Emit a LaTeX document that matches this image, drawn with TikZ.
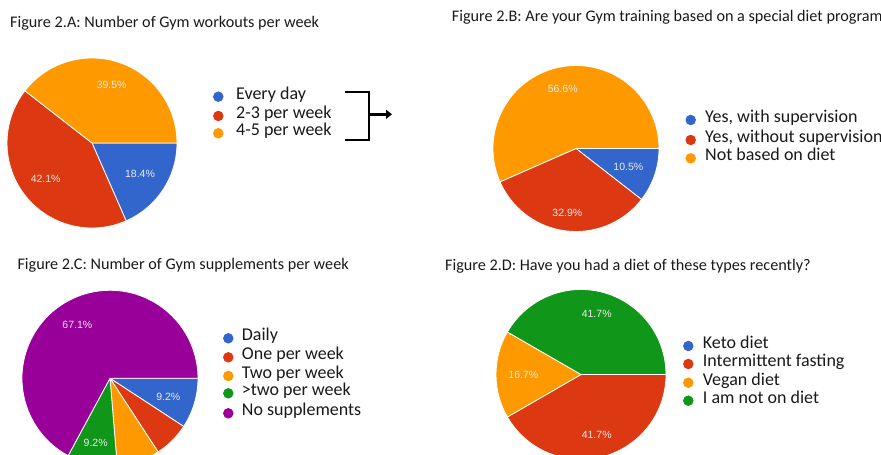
\documentclass[tikz,border=0pt]{standalone}
\usepackage{fontspec}
\setmainfont{Carlito}
\newfontfamily\pctfont{Liberation Sans}
\usetikzlibrary{arrows.meta}
\definecolor{gblue}{HTML}{3366CC}
\definecolor{gred}{HTML}{DC3912}
\definecolor{gorange}{HTML}{FF9900}
\definecolor{ggreen}{HTML}{109618}
\definecolor{gpurple}{HTML}{990099}

\begin{document}
\begin{tikzpicture}[x=1pt,y=1pt,
  title/.style={anchor=base west, inner sep=0pt, text=black!90, font=\fontsize{16.2}{18}\selectfont},
  key/.style={anchor=mid west, inner sep=0pt, text=black!90, font=\fontsize{18}{20}\selectfont},
  dot/.style={circle, inner sep=0pt, minimum size=10.5pt},
  pct/.style={inner sep=0pt, text=white!92!black, font=\pctfont\fontsize{10.5}{12}\selectfont},
  slice/.style={draw=white, line width=0.8pt}]
\useasboundingbox (0,0) rectangle (881,455);
\clip (0,0) rectangle (881,455);

\coordinate (pa) at (92,312);
\coordinate (pb) at (576,306.5);
\coordinate (pc) at (110,76.7);
\coordinate (pd) at (581,80.5);

\node[title] (ta) at (10,427.7) {Figure 2.A: Number of Gym workouts per week};
\node[title] (tb) at (451.7,433.3) {Figure 2.B: Are your Gym training based on a special diet program};
\node[title] (tc) at (17.3,185.7) {Figure 2.C: Number of Gym supplements per week};
\node[title] (td) at (445,184.3) {Figure 2.D: Have you had a diet of these types recently?};

\filldraw[slice, fill=gblue] (pa) -- ++(0:85) arc[start angle=0, end angle=-66.32, radius=85] -- cycle;
\filldraw[slice, fill=gred] (pa) -- ++(-66.32:85) arc[start angle=-66.32, end angle=-217.89, radius=85] -- cycle;
\filldraw[slice, fill=gorange] (pa) -- ++(-217.89:85) arc[start angle=-217.89, end angle=-360, radius=85] -- cycle;
\node[pct] (a1) at (111.7,370) {39.5\%};
\node[pct] (a2) at (45.7,276) {42.1\%};
\node[pct] (a3) at (140,280.7) {18.4\%};

\filldraw[slice, fill=gblue] (pb) -- ++(0:83) arc[start angle=0, end angle=-37.89, radius=83] -- cycle;
\filldraw[slice, fill=gred] (pb) -- ++(-37.89:83) arc[start angle=-37.89, end angle=-156.32, radius=83] -- cycle;
\filldraw[slice, fill=gorange] (pb) -- ++(-156.32:83) arc[start angle=-156.32, end angle=-360, radius=83] -- cycle;
\node[pct] (b1) at (562.7,365.7) {56.6\%};
\node[pct] (b2) at (628.3,287.7) {10.5\%};
\node[pct] (b3) at (567.3,242.3) {32.9\%};

\filldraw[slice, fill=gblue] (pc) -- ++(0:88) arc[start angle=0, end angle=-33.16, radius=88] -- cycle;
\filldraw[slice, fill=gred] (pc) -- ++(-33.16:88) arc[start angle=-33.16, end angle=-56.84, radius=88] -- cycle;
\filldraw[slice, fill=gorange] (pc) -- ++(-56.84:88) arc[start angle=-56.84, end angle=-85.26, radius=88] -- cycle;
\filldraw[slice, fill=ggreen] (pc) -- ++(-85.26:88) arc[start angle=-85.26, end angle=-118.42, radius=88] -- cycle;
\filldraw[slice, fill=gpurple] (pc) -- ++(-118.42:88) arc[start angle=-118.42, end angle=-360, radius=88] -- cycle;
\node[pct] (c1) at (77.3,130) {67.1\%};
\node[pct] (c2) at (168.3,58.3) {9.2\%};
\node[pct] (c3) at (95.7,11.7) {9.2\%};

\filldraw[slice, fill=gred] (pd) -- ++(0:85) arc[start angle=0, end angle=-150, radius=85] -- cycle;
\filldraw[slice, fill=gorange] (pd) -- ++(-150:85) arc[start angle=-150, end angle=-210, radius=85] -- cycle;
\filldraw[slice, fill=ggreen] (pd) -- ++(-210:85) arc[start angle=-210, end angle=-360, radius=85] -- cycle;
\node[pct] (d1) at (596.7,140.7) {41.7\%};
\node[pct] (d2) at (523.3,80) {16.7\%};
\node[pct] (d3) at (596.7,20) {41.7\%};

\node[dot, fill=gblue] (ka1) at (218.3,358.3) {};
\node[dot, fill=gred] (ka2) at (218.3,339) {};
\node[dot, fill=gorange] (ka3) at (218.3,321.7) {};
\node[key] at (236,358.3) {Every day};
\node[key] at (236,339) {2-3 per week};
\node[key] at (236,321.7) {4-5 per week};

\coordinate (bt) at (345,362.7);
\coordinate (bb) at (345,315);
\coordinate (bmid) at (369,340.7);
\coordinate (btip) at (392,340.7);
\draw[line width=2pt] (bt) -- (bt -| bmid) -- (bb -| bmid) -- (bb);
\draw[line width=3pt, -{Triangle[length=6pt,width=9pt]}] (bmid) -- (btip);

\node[dot, fill=gblue] (kb1) at (690.7,335) {};
\node[dot, fill=gred] (kb2) at (690.7,315) {};
\node[dot, fill=gorange] (kb3) at (690.7,296.7) {};
\node[key] at (705,335) {Yes, with supervision};
\node[key] at (705,315) {Yes, without supervision};
\node[key] at (705,296.7) {Not based on diet};

\node[dot, fill=gblue] (kc1) at (228.3,116.7) {};
\node[dot, fill=gred] (kc2) at (228.3,97.7) {};
\node[dot, fill=gorange] (kc3) at (228.3,79) {};
\node[dot, fill=ggreen] (kc4) at (228.3,61.7) {};
\node[dot, fill=gpurple] (kc5) at (228.3,41.7) {};
\node[key] at (241.7,116.7) {Daily};
\node[key] at (241.7,97.7) {One per week};
\node[key] at (241.7,79) {Two per week};
\node[key] at (241.7,61.7) {>two per week};
\node[key] at (241.7,41.7) {No supplements};

\node[dot, fill=gblue] (kd1) at (688.3,109) {};
\node[dot, fill=gred] (kd2) at (688.3,91) {};
\node[dot, fill=gorange] (kd3) at (688.3,72.3) {};
\node[dot, fill=ggreen] (kd4) at (688.3,54.3) {};
\node[key] at (702.7,109) {Keto diet};
\node[key] at (702.7,91) {Intermittent fasting};
\node[key] at (702.7,72.3) {Vegan diet};
\node[key] at (702.7,54.3) {I am not on diet};
\end{tikzpicture}
\end{document}
